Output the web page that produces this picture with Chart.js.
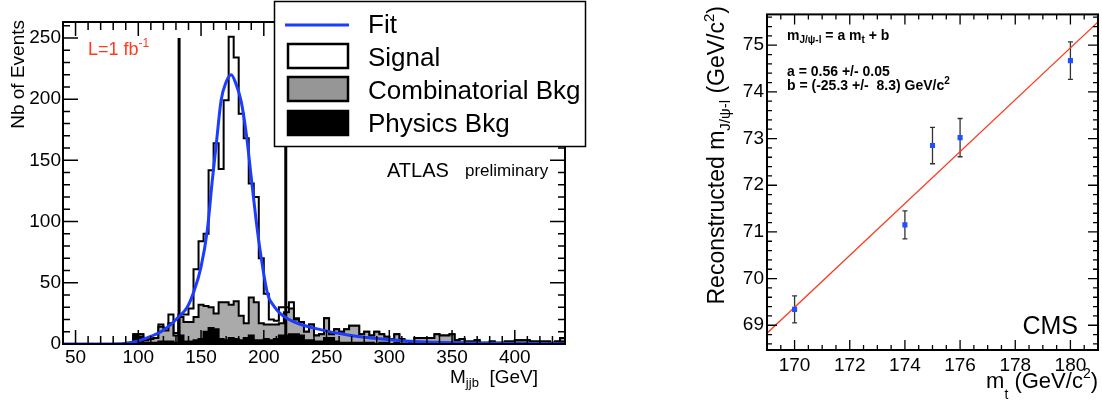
<!DOCTYPE html>
<html>
<head>
<meta charset="utf-8">
<script src="https://cdn.jsdelivr.net/npm/chart.js@4.4.1/dist/chart.umd.min.js"></script>
<style>
  body { margin: 0; background: #fff; }
  #atlas { position: absolute; left: 0; top: 0; }
  #cms { position: absolute; left: 690px; top: 0; }
</style>
</head>
<body>
<canvas id="atlas" width="600" height="405"></canvas>
<canvas id="cms" width="412" height="405"></canvas>
<script>
const FONT = "'Liberation Sans', Arial, Helvetica, sans-serif";
Chart.defaults.font.family = FONT;
Chart.defaults.color = '#000';

// ---- left panel: M_jjb histograms, 4 GeV bins from 40 to 440 ----
const binLow = Array.from({ length: 100 }, (_, i) => 40 + 4 * i);
const physicsBkg = [
  0, 0, 0, 0, 0, 0, 0, 0, 0, 0, 0, 0, 0, 0,
  7, 6, 1, 1, 1, 2, 2, 2, 1,
  7, 2, 2, 3, 4, 10, 13, 12, 4, 3, 5, 4, 3, 5, 7, 3, 3, 4, 3, 4, 7, 7, 8, 8, 7, 3, 3, 2, 2, 5, 5,
  2, 1, 1, 1, 1, 1, 1, 1, 0, 1, 1, 0, 1, 0, 0, 1, 1, 1, 1, 1, 1, 1, 1, 1, 1, 1, 0, 1, 1, 0, 0, 1, 0, 0, 1, 1, 1, 1, 1, 1, 0, 1, 1, 0, 1, 2
];
const combBkg = [
  0, 0, 0, 0, 0, 0, 0, 0, 0, 0, 0, 0, 0, 0,
  1, 2, 2, 3, 4, 12, 9, 15, 6,
  15, 16, 16, 19, 28, 21, 17, 13, 30, 31, 27, 31, 20, 12, 31, 31, 14, 12, 13, 12, 10, 19, 21, 12, 11, 7, 13, 5, 6, 16, 3,
  10, 9, 11, 14, 14, 7, 9, 6, 10, 7, 5, 4, 7, 4, 2, 1, 4, 4, 4, 4, 7, 6, 6, 7, 2, 3, 2, 1, 2, 1, 1, 1, 1, 1, 1, 1, 2, 2, 2, 1, 2, 1, 1, 1, 1, 3
];
const signal = [
  0, 0, 0, 0, 0, 0, 0, 0, 0, 0, 0, 0, 0, 0, 0, 0, 0, 0, 0,
  2, 2, 7, 2, 2, 6, 11, 39, 52, 59, 112, 139, 109, 165, 219, 199, 165, 151, 93, 86, 53, 25, 4, 3, 13, 4, 5, 1,
  0, 0, 0, 0, 0, 0, 0, 0, 0, 0, 0, 0, 0, 0, 0, 0, 0, 0, 0, 0, 0, 0, 0, 0, 0, 0,
  0, 0, 0, 0, 0, 0, 0, 0, 0, 0, 0, 0, 0, 0, 0, 0, 0, 0, 0, 0, 0, 0, 0, 0, 0, 0, 0
];
// fit curve
const fitMass = [40, 85, 95, 100, 107, 118, 126, 133, 139, 144, 150, 155, 159, 162, 166, 170, 174, 178, 182, 186, 190, 194, 198, 203, 208, 213, 224, 240, 267, 294, 320, 373, 440];
const fitEvents = [0, 0.3, 1.5, 2.5, 5, 10, 16, 23, 30, 42, 63, 93, 134, 162, 199, 214, 220, 212, 198, 172, 136, 100, 70, 41, 31, 25, 18, 13, 7.3, 4, 2, 0.7, 0.3];
const massWindow = [132.5, 217.5];
const windowHeight = 250;
const massTicks = [50, 100, 150, 200, 250, 300, 350, 400];
const eventTicks = [0, 50, 100, 150, 200, 250];

// ---- right panel: J/psi-lepton mass vs top mass ----
const topMass = [170, 174, 175, 176, 180];
const jpsiMass = [69.34, 71.15, 72.85, 73.02, 74.67];
const jpsiErr = [0.29, 0.30, 0.39, 0.41, 0.40];
const lineMt = [169, 181];
const lineMjl = [68.83, 75.50];
const mtTicks = [170, 172, 174, 176, 178, 180];
const mjlTicks = [69, 70, 71, 72, 73, 74, 75];

// stacked tops
const bkgTop = physicsBkg.map((v, i) => v + combBkg[i]);
const allTop = bkgTop.map((v, i) => v + signal[i]);
const edges = binLow.concat([440]);
function stepData(vals) {
  return edges.map((x, i) => ({ x, y: vals[Math.min(i, vals.length - 1)] }));
}

function drawRuns(ctx, runs, x, y, align) {
  // runs: [text, size, dy, bold]
  let total = 0;
  runs.forEach(r => { ctx.font = (r[3] ? 'bold ' : '') + r[1] + 'px ' + FONT; total += ctx.measureText(r[0]).width; });
  let cx = align === 'right' ? x - total : x;
  ctx.textAlign = 'left';
  ctx.textBaseline = 'alphabetic';
  runs.forEach(r => {
    ctx.font = (r[3] ? 'bold ' : '') + r[1] + 'px ' + FONT;
    ctx.fillText(r[0], cx, y + r[2]);
    cx += ctx.measureText(r[0]).width;
  });
}

// ROOT-like frame with ticks pointing inward on all four sides
function rootFrame(o) {
  return {
    id: 'rootFrame',
    afterDatasetsDraw(chart) {
      const { ctx, chartArea: a, scales: { x, y } } = chart;
      const isMajor = (v, m) => Math.abs(v / m - Math.round(v / m)) < 1e-6;
      ctx.save();
      ctx.strokeStyle = '#000';
      ctx.lineWidth = o.tickWidth;
      ctx.beginPath();
      for (let k = Math.ceil(x.min / o.xMinor - 1e-9); k * o.xMinor <= x.max + 1e-9; k++) {
        const v = k * o.xMinor;
        const len = isMajor(v, o.xMajor) ? o.xLen[0] : o.xLen[1];
        const px = x.getPixelForValue(v);
        ctx.moveTo(px, a.bottom); ctx.lineTo(px, a.bottom - len);
        ctx.moveTo(px, a.top); ctx.lineTo(px, a.top + len);
      }
      for (let k = Math.ceil(y.min / o.yMinor - 1e-9); k * o.yMinor <= y.max + 1e-9; k++) {
        const v = k * o.yMinor;
        const len = isMajor(v, o.yMajor) ? o.yLen[0] : o.yLen[1];
        const py = y.getPixelForValue(v);
        ctx.moveTo(a.left, py); ctx.lineTo(a.left + len, py);
        ctx.moveTo(a.right, py); ctx.lineTo(a.right - len, py);
      }
      ctx.stroke();
      ctx.lineWidth = o.frameWidth;
      ctx.strokeRect(a.left, a.top, a.right - a.left, a.bottom - a.top);
      ctx.restore();
    }
  };
}

const atlasDecor = {
  id: 'atlasDecor',
  afterDraw(chart) {
    const ctx = chart.ctx;
    ctx.save();
    ctx.fillStyle = '#000';
    // axis titles
    ctx.save();
    ctx.translate(24, 20);
    ctx.rotate(-Math.PI / 2);
    drawRuns(ctx, [['Nb of Events', 19, 0]], 0, 0, 'right');
    ctx.restore();
    drawRuns(ctx, [['M', 19, 0], ['jjb', 13, 4], ['  [GeV]', 19, 0]], 538, 383, 'right');
    // labels
    ctx.fillStyle = '#ff3a1e';
    drawRuns(ctx, [['L=1 fb', 18, 0], ['-1', 12, -8]], 88, 55, 'left');
    ctx.fillStyle = '#000';
    drawRuns(ctx, [['ATLAS', 20, 0]], 387, 177, 'left');
    drawRuns(ctx, [['preliminary', 17, 0]], 465, 176, 'left');
    // legend
    ctx.fillStyle = '#fff';
    ctx.fillRect(274, 1, 312, 146);
    ctx.strokeStyle = '#000';
    ctx.lineWidth = 1.5;
    ctx.strokeRect(274.5, 1.5, 311, 145);
    ctx.strokeStyle = '#1c3cff';
    ctx.lineWidth = 3;
    ctx.beginPath(); ctx.moveTo(285, 25); ctx.lineTo(349, 25); ctx.stroke();
    const boxes = [['#ffffff', 44], ['#969696', 77], ['#000000', 111]];
    ctx.lineWidth = 2.5;
    ctx.strokeStyle = '#000';
    boxes.forEach(b => {
      ctx.fillStyle = b[0];
      ctx.fillRect(288, b[1], 60, 24);
      ctx.strokeRect(288, b[1], 60, 24);
    });
    ctx.fillStyle = '#000';
    const names = [['Fit', 33], ['Signal', 66], ['Combinatorial Bkg', 99], ['Physics Bkg', 132]];
    names.forEach(n => drawRuns(ctx, [[n[0], 26, 0]], 368, n[1], 'left'));
    ctx.restore();
  }
};

new Chart(document.getElementById('atlas'), {
  type: 'line',
  data: {
    datasets: [
      {
        label: 'Fit', order: 0,
        data: fitMass.map((m, i) => ({ x: m, y: fitEvents[i] })),
        borderColor: '#1c3cff', borderWidth: 3, pointRadius: 0,
        cubicInterpolationMode: 'monotone', fill: false
      },
      {
        label: 'window low', order: 1,
        data: [{ x: massWindow[0], y: 0 }, { x: massWindow[0], y: windowHeight }],
        borderColor: '#000', borderWidth: 3, pointRadius: 0, fill: false
      },
      {
        label: 'window high', order: 1,
        data: [{ x: massWindow[1], y: 0 }, { x: massWindow[1], y: windowHeight }],
        borderColor: '#000', borderWidth: 3, pointRadius: 0, fill: false
      },
      {
        label: 'Physics Bkg', order: 2, data: stepData(physicsBkg), stepped: 'before',
        borderColor: '#000', backgroundColor: '#000', borderWidth: 2, pointRadius: 0, fill: 'origin'
      },
      {
        label: 'Combinatorial Bkg', order: 3, data: stepData(bkgTop), stepped: 'before',
        borderColor: '#000', backgroundColor: '#aaaaaa', borderWidth: 2, pointRadius: 0, fill: 'origin'
      },
      {
        label: 'Signal', order: 4, data: stepData(allTop), stepped: 'before',
        borderColor: '#000', backgroundColor: '#ffffff', borderWidth: 2, pointRadius: 0, fill: 'origin'
      }
    ]
  },
  options: {
    responsive: false,
    animation: false,
    layout: { padding: { left: 0, right: 35, top: 22, bottom: 0 } },
    plugins: { legend: { display: false }, tooltip: { enabled: false } },
    scales: {
      x: {
        type: 'linear', min: 40, max: 440,
        grid: { display: false, drawTicks: false }, border: { display: false },
        afterBuildTicks: s => { s.ticks = massTicks.map(v => ({ value: v })); },
        afterFit: s => { s.height = 61; },
        ticks: { padding: 2, font: { size: 19 }, maxRotation: 0, autoSkip: false }
      },
      y: {
        min: 0, max: 263,
        grid: { display: false, drawTicks: false }, border: { display: false },
        afterBuildTicks: s => { s.ticks = eventTicks.map(v => ({ value: v })); },
        afterFit: s => { s.width = 63; },
        ticks: { padding: 2, font: { size: 19 } }
      }
    }
  },
  plugins: [rootFrame({ xMinor: 10, xMajor: 50, yMinor: 10, yMajor: 50, xLen: [14, 8], yLen: [15, 7], tickWidth: 1.5, frameWidth: 2 }), atlasDecor]
});

const errorBars = {
  id: 'errorBars',
  beforeDatasetsDraw(chart) {
    const { ctx, scales: { x, y } } = chart;
    ctx.save();
    ctx.strokeStyle = '#333';
    ctx.lineWidth = 1.3;
    ctx.beginPath();
    topMass.forEach((m, i) => {
      const px = x.getPixelForValue(m);
      const hi = y.getPixelForValue(jpsiMass[i] + jpsiErr[i]);
      const lo = y.getPixelForValue(jpsiMass[i] - jpsiErr[i]);
      ctx.moveTo(px, hi); ctx.lineTo(px, lo);
      ctx.moveTo(px - 2.5, hi); ctx.lineTo(px + 2.5, hi);
      ctx.moveTo(px - 2.5, lo); ctx.lineTo(px + 2.5, lo);
    });
    ctx.stroke();
    ctx.restore();
  }
};

const cmsDecor = {
  id: 'cmsDecor',
  afterDraw(chart) {
    const ctx = chart.ctx;
    ctx.save();
    ctx.fillStyle = '#000';
    ctx.save();
    ctx.translate(34, 6);
    ctx.rotate(-Math.PI / 2);
    drawRuns(ctx, [['Reconstructed m', 23, 0], ['J/\u03c8-l', 15, 6], [' (GeV/c', 23, 0], ['2', 15, -10], [')', 23, 0]], 0, 0, 'right');
    ctx.restore();
    drawRuns(ctx, [['m', 22, 0], ['t', 14, 11], [' (GeV/c', 22, 0], ['2', 14, -10], [')', 22, 0]], 408, 388, 'right');
    drawRuns(ctx, [['m', 14, 0, true], ['J/\u03c8-l', 10, 3, true], [' = a m', 14, 0, true], ['t', 10, 3, true], [' + b', 14, 0, true]], 97, 40, 'left');
    drawRuns(ctx, [['a = 0.56 +/- 0.05', 14, 0, true]], 97, 76, 'left');
    drawRuns(ctx, [['b = (-25.3 +/-  8.3) GeV/c', 14, 0, true], ['2', 10, -6, true]], 97, 90, 'left');
    drawRuns(ctx, [['CMS', 25, 0]], 388, 334, 'right');
    ctx.restore();
  }
};

new Chart(document.getElementById('cms'), {
  type: 'scatter',
  data: {
    datasets: [
      {
        label: 'points', order: 0,
        data: topMass.map((m, i) => ({ x: m, y: jpsiMass[i] })),
        pointStyle: 'rect', pointRadius: 3.6,
        backgroundColor: '#1f4fff', borderColor: '#1f4fff', borderWidth: 0
      },
      {
        label: 'fit', order: 1, showLine: true,
        data: lineMt.map((m, i) => ({ x: m, y: lineMjl[i] })),
        borderColor: '#ff3a1e', borderWidth: 1.2, pointRadius: 0
      }
    ]
  },
  options: {
    responsive: false,
    animation: false,
    layout: { padding: { left: 0, right: 3, top: 5, bottom: 0 } },
    plugins: { legend: { display: false }, tooltip: { enabled: false } },
    scales: {
      x: {
        type: 'linear', min: 169, max: 181,
        grid: { display: false, drawTicks: false }, border: { display: false },
        afterBuildTicks: s => { s.ticks = mtTicks.map(v => ({ value: v })); },
        afterFit: s => { s.height = 55; },
        ticks: { padding: 4, font: { size: 19 }, maxRotation: 0, autoSkip: false }
      },
      y: {
        min: 68.47, max: 75.66,
        grid: { display: false, drawTicks: false }, border: { display: false },
        afterBuildTicks: s => { s.ticks = mjlTicks.map(v => ({ value: v })); },
        afterFit: s => { s.width = 77; },
        ticks: { padding: 3, font: { size: 19 } }
      }
    }
  },
  plugins: [errorBars, rootFrame({ xMinor: 0.5, xMajor: 2, yMinor: 0.2, yMajor: 1, xLen: [10, 5], yLen: [10, 5], tickWidth: 1.3, frameWidth: 2 }), cmsDecor]
});
</script>
</body>
</html>
